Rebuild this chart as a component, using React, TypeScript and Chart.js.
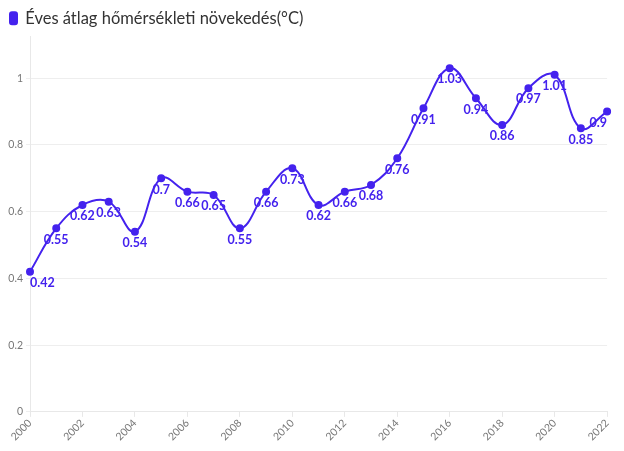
import React, { useEffect, useRef } from "react";
import { Chart, registerables } from "chart.js";

Chart.register(...registerables);

const years = ["2000","2001","2002","2003","2004","2005","2006","2007","2008","2009","2010","2011","2012","2013","2014","2015","2016","2017","2018","2019","2020","2021","2022"];
const temps = [0.42,0.55,0.62,0.63,0.54,0.7,0.66,0.65,0.55,0.66,0.73,0.62,0.66,0.68,0.76,0.91,1.03,0.94,0.86,0.97,1.01,0.85,0.9];
const yTicks = [0, 0.2, 0.4, 0.6, 0.8, 1];
const seriesName = "Éves átlag hőmérsékleti növekedés(°C)";

const COLOR = "#4422ee";
const FONT = "Lato, 'Noto Sans', sans-serif";

const labelPlugin = {
  id: "pointLabels",
  afterDatasetsDraw(chart: any) {
    const ctx = chart.ctx;
    const area = chart.chartArea;
    const meta = chart.getDatasetMeta(0);
    ctx.save();
    ctx.font = `bold 12.5px ${FONT}`;
    ctx.fillStyle = COLOR;
    ctx.textAlign = "left";
    ctx.textBaseline = "top";
    meta.data.forEach((pt: any, i: number) => {
      const txt = String(temps[i]);
      const w = ctx.measureText(txt).width;
      let x = pt.x - w / 2;
      if (x < area.left) x = area.left;
      if (x + w > area.right) x = area.right - w;
      ctx.fillText(txt, x, pt.y + 5);
    });
    ctx.restore();
  },
};

export default function App() {
  const ref = useRef<HTMLCanvasElement>(null);
  useEffect(() => {
    const chart = new Chart(ref.current!, {
      type: "line",
      data: {
        labels: years,
        datasets: [
          {
            label: seriesName,
            data: temps,
            borderColor: COLOR,
            backgroundColor: COLOR,
            borderWidth: 2,
            pointRadius: 3,
            pointBackgroundColor: COLOR,
            tension: 0.4,
          },
        ],
      },
      options: {
        animation: false,
        responsive: true,
        maintainAspectRatio: false,
        layout: { padding: { left: 0, right: 7, top: 0, bottom: 0 } },
        plugins: {
          legend: {
            align: "start",
            labels: {
              boxWidth: 7,
              boxHeight: 12,
              useBorderRadius: true,
              borderRadius: 2,
              color: "#333",
              font: { size: 16.5, family: FONT },
              padding: 2,
            },
          },
          tooltip: { enabled: false },
        },
        scales: {
          x: {
            afterFit: (axis: any) => {
              axis.paddingLeft = 0;
            },
            grid: { display: true, drawOnChartArea: false, color: "#e8e8e8", tickLength: 5 },
            border: { color: "#e8e8e8" },
            ticks: {
              color: "#777",
              font: { size: 10.5, family: FONT },
              minRotation: 45,
              maxRotation: 45,
              autoSkip: false,
              padding: 0,
              callback: (_v: any, i: number) => (i % 2 === 0 ? years[i] : null),
            },
          },
          y: {
            min: 0,
            max: 1.125,
            afterBuildTicks: (axis: any) => {
              axis.ticks = yTicks.map((v) => ({ value: v }));
            },
            afterFit: (axis: any) => {
              axis.width = 22;
            },
            grid: { color: "#eeeeee", tickLength: 4 },
            border: { color: "#e8e8e8" },
            ticks: {
              color: "#777",
              font: { size: 10.5, family: FONT },
              padding: 3,
              callback: (v: any) => String(v),
            },
          },
        },
      },
      plugins: [labelPlugin],
    });
    return () => chart.destroy();
  }, []);
  return (
    <div style={{ width: 608, height: 435, position: "relative" }}>
      <canvas ref={ref} />
    </div>
  );
}
